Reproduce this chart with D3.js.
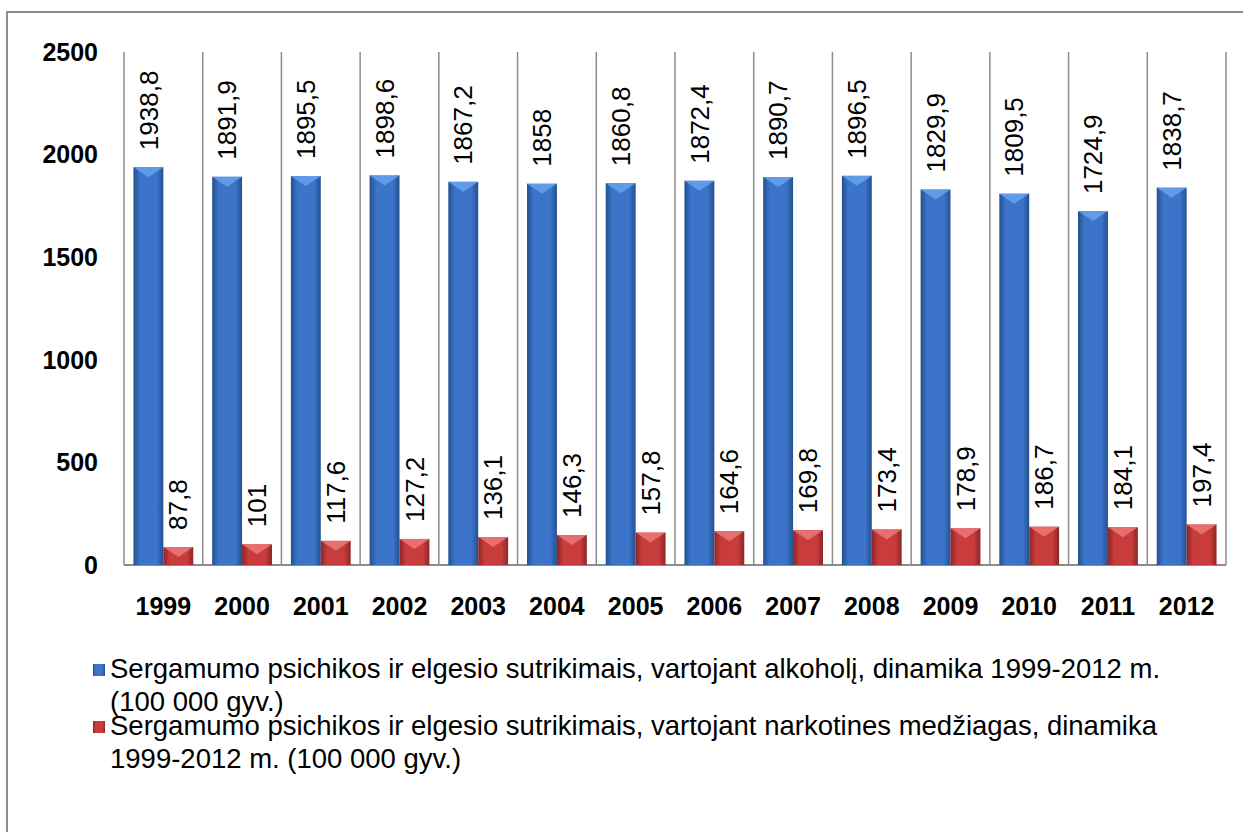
<!DOCTYPE html>
<html>
<head>
<meta charset="utf-8">
<script src="https://cdn.jsdelivr.net/npm/d3@7/dist/d3.min.js"></script>
<style>
  body { margin: 0; background: #fff; }
  text { font-family: "Liberation Sans", Arial, sans-serif; }
</style>
</head>
<body>
<div id="chart"></div>
<script>
// chart data
var years = ["1999", "2000", "2001", "2002", "2003", "2004", "2005", "2006", "2007", "2008", "2009", "2010", "2011", "2012"];
var alcohol = [1938.8, 1891.9, 1895.5, 1898.6, 1867.2, 1858, 1860.8, 1872.4, 1890.7, 1896.5, 1829.9, 1809.5, 1724.9, 1838.7];
var drugs = [87.8, 101, 117.6, 127.2, 136.1, 146.3, 157.8, 164.6, 169.8, 173.4, 178.9, 186.7, 184.1, 197.4];
var yTicks = [0, 500, 1000, 1500, 2000, 2500];
var seriesNames = [
    ["Sergamumo psichikos ir elgesio sutrikimais, vartojant alkoholį, dinamika 1999-2012 m.", "(100 000 gyv.)"],
    ["Sergamumo psichikos ir elgesio sutrikimais, vartojant narkotines medžiagas, dinamika", "1999-2012 m. (100 000 gyv.)"]
];

var W = 1243, H = 832;
var margin = {top: 52, left: 124, right: 17, bottom: 267};
var width = W - margin.left - margin.right,
    height = H - margin.top - margin.bottom;

var svg = d3.select("#chart").append("svg")
    .attr("width", W)
    .attr("height", H);

// gradients for the bars
var defs = svg.append("defs");
var palettes = [
    {id: "gBlue", edge: "#24508f", mid: "#3b74c9"},
    {id: "gRed", edge: "#8c2626", mid: "#c83c3c"}
];
palettes.forEach(function(p) {
    var g = defs.append("linearGradient").attr("id", p.id).attr("x1", 0).attr("x2", 1).attr("y1", 0).attr("y2", 0);
    g.append("stop").attr("offset", "0%").attr("stop-color", p.edge);
    g.append("stop").attr("offset", "22%").attr("stop-color", p.mid);
    g.append("stop").attr("offset", "78%").attr("stop-color", p.mid);
    g.append("stop").attr("offset", "100%").attr("stop-color", p.edge);
});

// outer frame
svg.append("rect")
    .attr("x", 7).attr("y", 12)
    .attr("width", 1250).attr("height", 830)
    .style("fill", "none")
    .style("stroke", "#8c8c8c")
    .style("stroke-width", 2);

var g = svg.append("g")
    .attr("transform", "translate(" + margin.left + "," + margin.top + ")");

var x0 = d3.scaleBand().domain(years).range([0, width]);
var bw = x0.bandwidth();
var x1 = d3.scaleBand().domain([0, 1]).range([bw * 0.12, bw * 0.88]);

var y = d3.scaleLinear().domain([0, 2500]).range([height, 0]);

// vertical category separators
g.selectAll(".sep")
    .data(years.concat(["end"]))
    .enter().append("line")
    .attr("class", "sep")
    .attr("x1", function(d, i) { return i * bw; })
    .attr("x2", function(d, i) { return i * bw; })
    .attr("y1", 0)
    .attr("y2", height)
    .style("stroke", "#8c8c8c")
    .style("stroke-width", 1.5);

// bottom axis line
g.append("line")
    .attr("x1", 0).attr("x2", width)
    .attr("y1", height).attr("y2", height)
    .style("stroke", "#8c8c8c")
    .style("stroke-width", 2);

// y tick labels
g.selectAll(".ytick")
    .data(yTicks)
    .enter().append("text")
    .attr("x", -26)
    .attr("y", function(d) { return y(d); })
    .attr("dy", "0.35em")
    .style("text-anchor", "end")
    .style("font-weight", "bold")
    .style("font-size", "25px")
    .text(function(d) { return d; });

// x labels
g.selectAll(".xlab")
    .data(years)
    .enter().append("text")
    .attr("x", function(d) { return x0(d) + bw / 2; })
    .attr("y", height + 41)
    .attr("dy", "0.35em")
    .style("text-anchor", "middle")
    .style("font-weight", "bold")
    .style("font-size", "25px")
    .text(function(d) { return d; });

var series = [alcohol, drugs];
var fills = ["url(#gBlue)", "url(#gRed)"];
var bevel = ["#64a0ea", "#ea7472"];
var fmt = function(v) { return String(v).replace(".", ","); };

series.forEach(function(vals, s) {
    var grp = g.append("g");
    var data = years.map(function(yr, i) { return {year: yr, v: vals[i]}; });
    var bx = function(d) { return x0(d.year) + x1(s); };
    var w = x1.bandwidth();

    grp.selectAll(".bar")
        .data(data)
        .enter().append("rect")
        .attr("x", bx)
        .attr("y", function(d) { return y(d.v); })
        .attr("width", w)
        .attr("height", function(d) { return height - y(d.v); })
        .style("fill", fills[s]);

    // light bevel on the top of each bar
    grp.selectAll(".bev")
        .data(data)
        .enter().append("path")
        .attr("d", function(d) {
            var xl = bx(d), yt = y(d.v);
            return "M" + xl + "," + yt + "L" + (xl + w) + "," + yt +
                "L" + (xl + w / 2) + "," + (yt + Math.min(10, height - yt)) + "Z";
        })
        .style("fill", bevel[s])
        .style("opacity", 0.9);

    // rotated value labels
    grp.selectAll(".lab")
        .data(data)
        .enter().append("text")
        .attr("transform", function(d) {
            return "translate(" + (bx(d) + w / 2) + "," + (y(d.v) - 17) + ") rotate(-90)";
        })
        .attr("dy", "0.35em")
        .style("font-size", "26px")
        .style("text-anchor", "start")
        .text(function(d) { return fmt(d.v); });
});

// legend
var legendTop = [678, 735];
var legend = svg.selectAll(".legend")
    .data(seriesNames)
    .enter().append("g")
    .attr("class", "legend");

legend.append("rect")
    .attr("x", 93)
    .attr("y", function(d, i) { return legendTop[i] - 14; })
    .attr("width", 12)
    .attr("height", 12)
    .style("fill", function(d, i) { return fills[i]; });

legend.append("text")
    .attr("x", 110)
    .attr("y", function(d, i) { return legendTop[i]; })
    .style("font-size", "27.5px")
    .text(function(d) { return d[0]; });

legend.append("text")
    .attr("x", 110)
    .attr("y", function(d, i) { return legendTop[i] + 33; })
    .style("font-size", "27.5px")
    .text(function(d) { return d[1]; });
</script>
</body>
</html>
